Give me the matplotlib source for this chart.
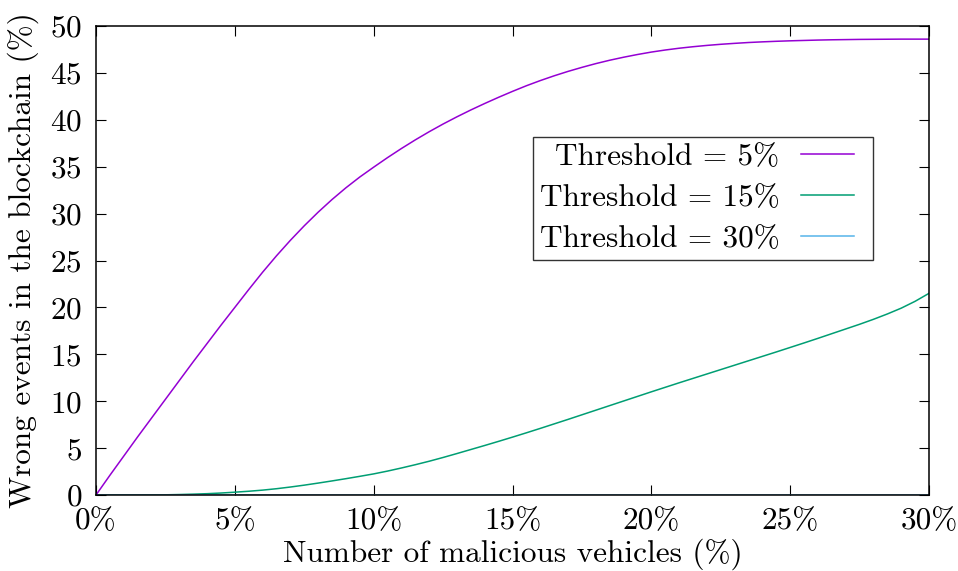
import matplotlib
matplotlib.use("Agg")
import matplotlib.pyplot as plt
from matplotlib.legend_handler import HandlerLine2D

plt.rcParams['font.family'] = ['cmr10', 'DejaVu Serif']
plt.rcParams['mathtext.fontset'] = 'cm'
plt.rcParams['axes.formatter.use_mathtext'] = True

# Data (x in % of malicious vehicles, 0.5% steps)
x_pct = [i * 0.5 for i in range(61)]
thr5 = [0, 2.1, 4.15, 6.2, 8.2, 10.2, 12.2, 14.2, 16.15, 18.1,
        20.0, 21.9, 23.75, 25.5, 27.15, 28.7, 30.15, 31.5, 32.75, 33.9,
        34.95, 35.97, 36.94, 37.86, 38.73, 39.55, 40.32, 41.05, 41.74, 42.4,
        43.03, 43.63, 44.18, 44.69, 45.16, 45.59, 45.99, 46.35, 46.67, 46.96,
        47.22, 47.44, 47.63, 47.79, 47.93, 48.05, 48.15, 48.24, 48.31, 48.37,
        48.42, 48.46, 48.5, 48.53, 48.55, 48.57, 48.58, 48.59, 48.6, 48.6,
        48.6]
thr15 = [0, 0, 0, 0, 0.01, 0.02, 0.05, 0.09, 0.14, 0.21,
         0.3, 0.4, 0.52, 0.67, 0.85, 1.05, 1.27, 1.5, 1.74, 1.99,
         2.25, 2.55, 2.88, 3.23, 3.6, 4.0, 4.42, 4.85, 5.28, 5.72,
         6.17, 6.63, 7.1, 7.58, 8.06, 8.55, 9.04, 9.53, 10.02, 10.51,
         11.0, 11.48, 11.96, 12.43, 12.9, 13.37, 13.84, 14.31, 14.78, 15.25,
         15.73, 16.21, 16.7, 17.2, 17.7, 18.2, 18.73, 19.3, 19.92, 20.65,
         21.5]
thr30 = [0] * 61
labels = ["Threshold = 5%", "Threshold = 15%", "Threshold = 30%"]
colors = ["#9400d3", "#009e73", "#56b4e9"]
xticks = [0, 5, 10, 15, 20, 25, 30]
xticklabels = ["0%", "5%", "10%", "15%", "20%", "25%", "30%"]
yticks = [0, 5, 10, 15, 20, 25, 30, 35, 40, 45, 50]


class ShortLine(HandlerLine2D):
    def create_artists(self, legend, orig_handle, xdescent, ydescent,
                       width, height, fontsize, trans):
        return super().create_artists(legend, orig_handle, xdescent, ydescent,
                                      width * 0.8, height, fontsize, trans)


fig = plt.figure(figsize=(9.58, 5.71), dpi=100)
ax = fig.add_axes([96/958, 76/571, 833/958, 469/571])

for y, lab, c in zip([thr5, thr15, thr30], labels, colors):
    ax.plot(x_pct, y, color=c, lw=1.1, label=lab)

FS = 22.5
ax.set_xlim(0, 30)
ax.set_ylim(0, 50)
ax.set_xticks(xticks)
ax.set_xticklabels(xticklabels)
ax.set_yticks(yticks)
ax.tick_params(direction='in', length=7, width=0.8, top=True, right=True,
               labelsize=FS, colors='black')
ax.tick_params(axis='x', pad=9)
ax.tick_params(axis='y', pad=10)
for s in ax.spines.values():
    s.set_linewidth(1.1)

ax.set_xlabel("Number of malicious vehicles (%)", fontsize=FS, labelpad=2)
ax.set_ylabel("Wrong events in the blockchain (%)", fontsize=FS, labelpad=8)

leg = ax.legend(loc='upper right', bbox_to_anchor=(873/958, 1 - 137/571),
                bbox_transform=fig.transFigure, borderaxespad=0, markerfirst=False,
                fontsize=FS, frameon=True, fancybox=False, handlelength=2.1,
                handletextpad=0.7, labelspacing=0.42, borderpad=0.2,
                handler_map={matplotlib.lines.Line2D: ShortLine()})
leg.get_frame().set_edgecolor('black')
leg.get_frame().set_linewidth(1.0)

fig.savefig("out.png", dpi=100)
